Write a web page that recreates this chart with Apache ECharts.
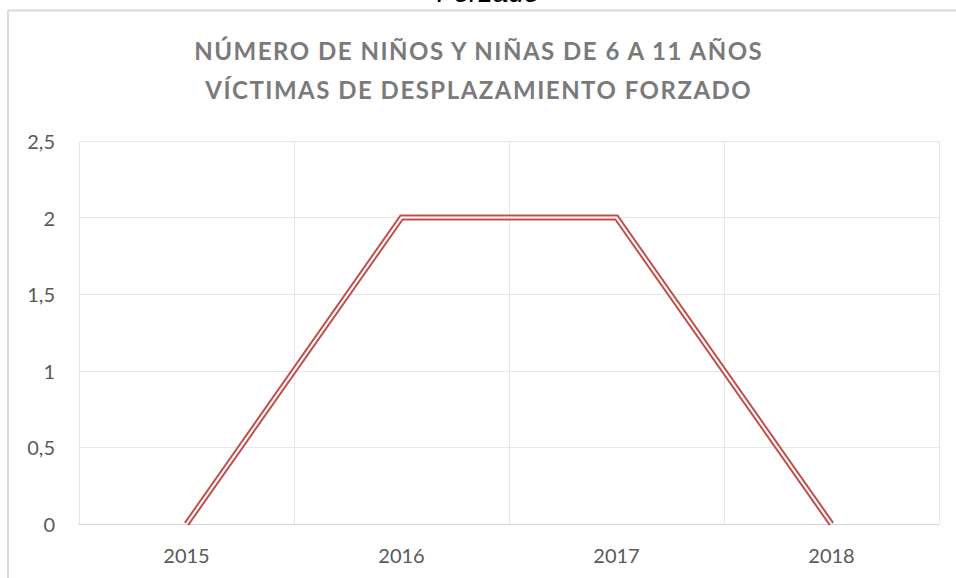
<!DOCTYPE html>
<html>
<head>
<meta charset="utf-8">
<script src="https://cdn.jsdelivr.net/npm/echarts@6/dist/echarts.min.js"></script>
<style>
html,body{margin:0;padding:0;background:#fff;}
#chart{width:956px;height:578px;}
</style>
</head>
<body>
<div id="chart"></div>
<script>
const categories = ['2015', '2016', '2017', '2018'];
const values = [0, 2, 2, 0];
const titleLines = ['NÚMERO DE NIÑOS Y NIÑAS DE 6 A 11 AÑOS', 'VÍCTIMAS DE DESPLAZAMIENTO FORZADO'];
const topCaption = 'Forzado';
const yTicks = { min: 0, max: 2.5, interval: 0.5 };

const TITLE_SPACING = 1.5;
const dom = document.getElementById('chart');
const chart = echarts.init(dom, null, { renderer: 'svg' });

const option = {
  animation: false,
  backgroundColor: '#ffffff',
  grid: { left: 79, right: 17, top: 141, bottom: 54, containLabel: false },
  graphic: [
    { type: 'line', shape: { x1: 8, y1: 10.5, x2: 956, y2: 10.5 }, style: { stroke: '#d9d9d9', lineWidth: 2 }, silent: true },
    { type: 'line', shape: { x1: 8, y1: 10, x2: 8, y2: 578 }, style: { stroke: '#d9d9d9', lineWidth: 2 }, silent: true },
    { type: 'text', x: 488, y: -8, style: { text: topCaption, textAlign: 'center', textVerticalAlign: 'middle', fontSize: 28, fontStyle: 'italic', fontFamily: 'Liberation Sans, Arial, sans-serif', fill: '#000000' }, silent: true },
    { type: 'text', x: 478 + TITLE_SPACING / 2, y: 31, style: { text: titleLines.join('\n'), textAlign: 'center', textVerticalAlign: 'top', fontSize: 24, fontWeight: 'bold', lineHeight: 39, fontFamily: 'Lato, Open Sans, sans-serif', fill: '#7a7a7a' }, silent: true }
  ],
  xAxis: {
    type: 'category',
    data: categories,
    boundaryGap: true,
    axisLine: { show: true, lineStyle: { color: '#d4d4d4', width: 1 } },
    axisTick: { show: false },
    axisLabel: { color: '#595959', fontSize: 20, fontFamily: 'Lato, Open Sans, sans-serif', margin: 21 },
    splitLine: { show: true, lineStyle: { color: '#e6e6e6', width: 1 } }
  },
  yAxis: {
    type: 'value',
    min: yTicks.min,
    max: yTicks.max,
    interval: yTicks.interval,
    axisLine: { show: false },
    axisTick: { show: false },
    axisLabel: { color: '#595959', fontSize: 20, fontFamily: 'Lato, Open Sans, sans-serif', margin: 24, formatter: v => String(v).replace('.', ',') },
    splitLine: { show: true, lineStyle: { color: '#e6e6e6', width: 1 } }
  },
  series: [
    { type: 'line', data: values, symbol: 'none', z: 3, lineStyle: { color: '#C0504D', width: 6, join: 'miter', cap: 'butt' } },
    { type: 'line', data: values, symbol: 'none', z: 4, lineStyle: { color: '#ffffff', width: 2, join: 'miter', cap: 'butt' } }
  ]
};
chart.setOption(option);

function applySpacing() {
  dom.querySelectorAll('text').forEach(t => {
    if (titleLines.indexOf(t.textContent.trim()) >= 0) {
      t.setAttribute('letter-spacing', TITLE_SPACING);
    }
  });
}
applySpacing();
chart.on('finished', applySpacing);
setTimeout(applySpacing, 0);
setTimeout(applySpacing, 100);
</script>
</body>
</html>
